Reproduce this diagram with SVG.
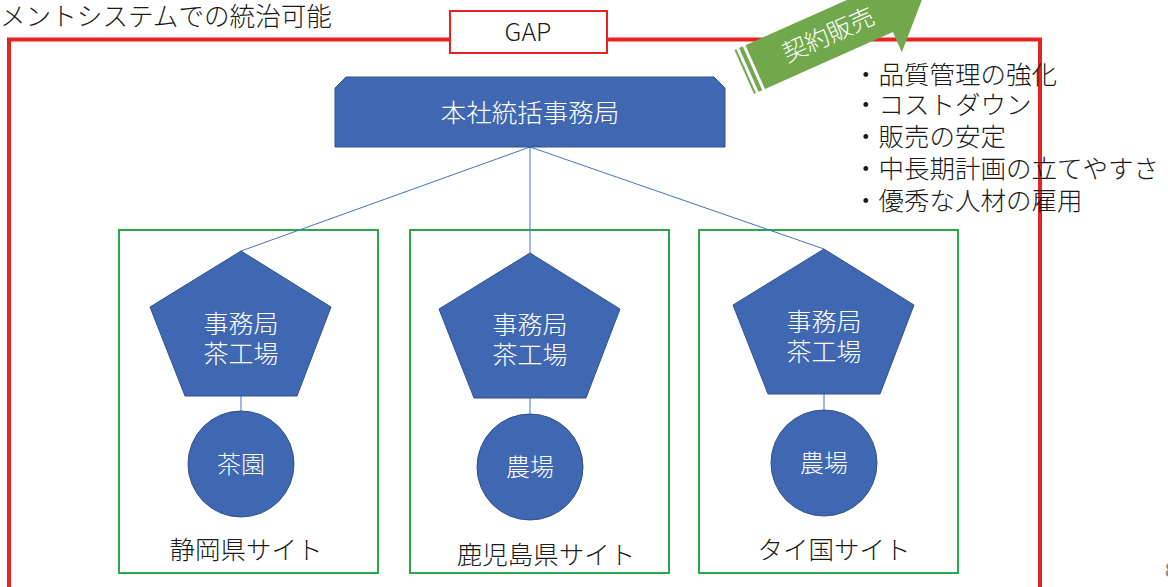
<svg xmlns="http://www.w3.org/2000/svg" width="1168" height="587" viewBox="0 0 1168 587">
<style>
.jp{font-family:"Noto Sans CJK JP","Noto Sans",sans-serif;font-weight:300}
.w{fill:#ffffff}
.k{fill:#1a1a1a}
.blue{fill:#4068b2;stroke:#2f528f;stroke-width:1}
.site{fill:none;stroke:#2aa84a;stroke-width:2}
.conn{stroke:#4472c4;stroke-width:1;fill:none}
</style>
<rect width="1168" height="587" fill="#ffffff"/>
<text class="jp k" x="0" y="26" font-size="25.6">メントシステムでの統治可能</text>
<g id="frame">
<path d="M9,592 V39.5 H1040 V592" fill="none" stroke="#e8231f" stroke-width="4"/>
</g>
<g id="gap">
<rect x="450" y="11" width="157" height="42" fill="#ffffff" stroke="#e8231f" stroke-width="2"/>
<text class="jp k" x="528" y="41" font-size="25" text-anchor="middle">GAP</text>
</g>
<g id="sites">
<rect id="site1" class="site" x="119" y="230" width="259" height="343"/>
<rect id="site2" class="site" x="410" y="230" width="259" height="343"/>
<rect id="site3" class="site" x="699" y="230" width="259" height="343"/>
</g>
<g id="connectors">
<line class="conn" x1="530" y1="147" x2="241" y2="251"/>
<line class="conn" x1="530" y1="147" x2="530" y2="253"/>
<line class="conn" x1="530" y1="147" x2="824" y2="249"/>
<line class="conn" x1="241" y1="396" x2="241" y2="411"/>
<line class="conn" x1="530" y1="398" x2="530" y2="414"/>
<line class="conn" x1="824" y1="394" x2="824" y2="410"/>
</g>
<g id="hq">
<path class="blue" d="M335,88 L346,77 H714 L725,88 V147 H335 Z"/>
<text class="jp w" x="530" y="122" font-size="25.5" text-anchor="middle">本社統括事務局</text>
</g>
<g id="office1">
<path class="blue" d="M241,251 L331,307 L297,396 H185 L150,307 Z"/>
<text class="jp w" x="241" y="333" font-size="25" text-anchor="middle">事務局</text>
<text class="jp w" x="241" y="363" font-size="25" text-anchor="middle">茶工場</text>
</g>
<g id="office2">
<path class="blue" d="M530,253 L620,309 L586,398 H474 L439,309 Z"/>
<text class="jp w" x="530" y="334" font-size="25" text-anchor="middle">事務局</text>
<text class="jp w" x="530" y="364" font-size="25" text-anchor="middle">茶工場</text>
</g>
<g id="office3">
<path class="blue" d="M824,249 L914,305 L880,394 H768 L733,305 Z"/>
<text class="jp w" x="824" y="331" font-size="25" text-anchor="middle">事務局</text>
<text class="jp w" x="824" y="361" font-size="25" text-anchor="middle">茶工場</text>
</g>
<g id="farm1">
<circle class="blue" cx="241" cy="464" r="53"/>
<text class="jp w" x="241" y="473" font-size="24" text-anchor="middle">茶園</text>
</g>
<g id="farm2">
<circle class="blue" cx="530" cy="467" r="53"/>
<text class="jp w" x="530" y="476" font-size="24" text-anchor="middle">農場</text>
</g>
<g id="farm3">
<circle class="blue" cx="824" cy="463" r="53"/>
<text class="jp w" x="824" y="472" font-size="24" text-anchor="middle">農場</text>
</g>
<g id="labels">
<text class="jp k" x="246" y="559" font-size="25.5" text-anchor="middle">静岡県サイト</text>
<text class="jp k" x="546" y="564" font-size="25.5" text-anchor="middle">鹿児島県サイト</text>
<text class="jp k" x="834" y="559" font-size="25.5" text-anchor="middle">タイ国サイト</text>
</g>
<g id="contract" transform="translate(765,89) rotate(-24)">
<rect x="-12" y="-48" width="2" height="48" fill="#70a84b"/>
<rect x="-7" y="-48" width="4" height="48" fill="#70a84b"/>
<path d="M0,0 L140,0 L140,22 L186,-24 L140,-70 L140,-48 L0,-48 Z" fill="#70a84b"/>
<text class="jp w" x="80" y="-15" font-size="24.5" text-anchor="middle">契約販売</text>
</g>
<g id="benefits" class="jp k" font-size="25.5">
<text x="853" y="84">・品質管理の強化</text>
<text x="853" y="114">・コストダウン</text>
<text x="853" y="146">・販売の安定</text>
<text x="853" y="178">・中長期計画の立てやすさ</text>
<text x="853" y="210">・優秀な人材の雇用</text>
</g>
<text x="1165" y="577" font-family="Liberation Sans, Arial, sans-serif" font-size="20" fill="#888888">8</text>
</svg>
